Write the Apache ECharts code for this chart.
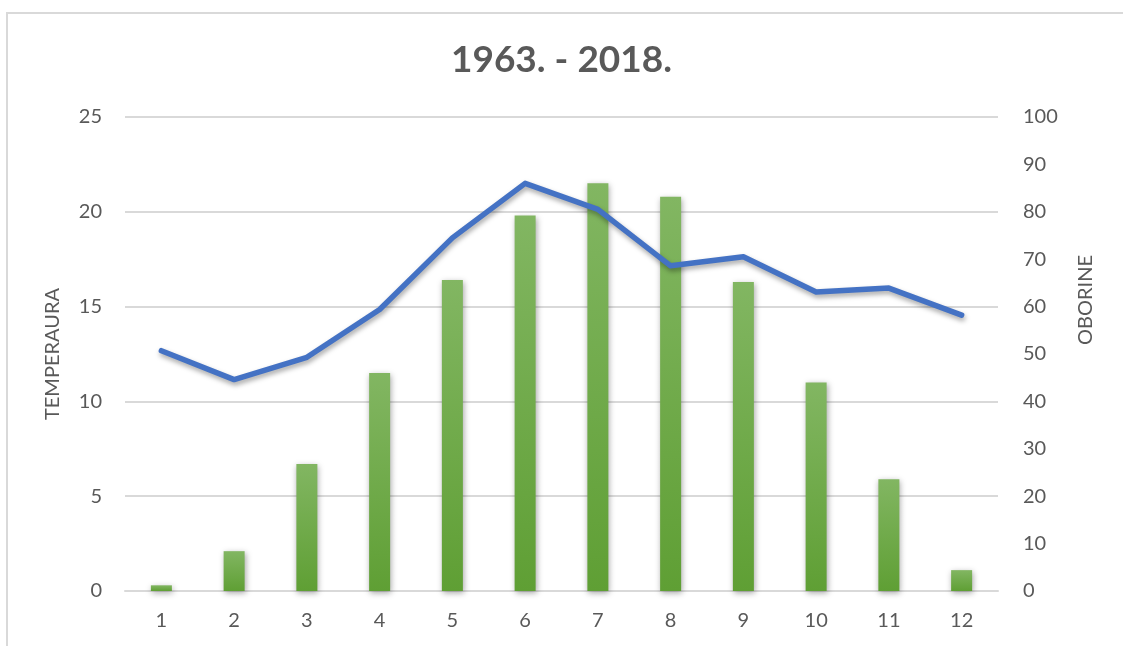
<!DOCTYPE html>
<html>
<head>
<meta charset="utf-8">
<script src="https://cdn.jsdelivr.net/npm/echarts@6/dist/echarts.min.js"></script>
<style>html,body{margin:0;padding:0;background:#fff}#c{width:1123px;height:646px}</style>
</head>
<body>
<div id="c"></div>
<script>
const months = ['1','2','3','4','5','6','7','8','9','10','11','12'];
const temperatura = [0.3, 2.1, 6.7, 11.5, 16.4, 19.8, 21.5, 20.8, 16.3, 11.0, 5.9, 1.1];
const oborine = [50.7, 44.6, 49.3, 59.4, 74.5, 86.0, 80.5, 68.6, 70.5, 63.1, 63.9, 58.2];
const titleText = '1963. - 2018.';

const chart = echarts.init(document.getElementById('c'));
const txt = '#595959';
const font = 'Lato';
chart.setOption({
  backgroundColor: '#fff',
  animation: false,
  title: {
    text: titleText, left: 'center', top: 37,
    textStyle: {fontFamily: font, fontSize: 37, fontWeight: 'bold', color: txt}
  },
  graphic: [{
    type: 'rect', shape: {x: 7, y: 13, width: 1200, height: 700},
    style: {fill: 'none', stroke: '#d9d9d9', lineWidth: 2}, silent: true
  }],
  grid: {left: 125, right: 125, top: 117, bottom: 55},
  xAxis: {
    type: 'category', data: months,
    axisTick: {show: false},
    axisLine: {lineStyle: {color: '#d9d9d9', width: 2}},
    axisLabel: {color: txt, fontFamily: font, fontSize: 20, margin: 20}
  },
  yAxis: [{
    type: 'value', min: 0, max: 25, interval: 5,
    name: 'TEMPERAURA', nameLocation: 'middle', nameGap: 62, nameRotate: 90,
    nameTextStyle: {color: txt, fontFamily: font, fontSize: 20},
    axisLine: {show: false}, axisTick: {show: false},
    axisLabel: {color: txt, fontFamily: font, fontSize: 20, margin: 23},
    splitLine: {lineStyle: {color: '#d9d9d9', width: 2}}
  }, {
    type: 'value', min: 0, max: 100, interval: 10,
    name: 'OBORINE', nameLocation: 'middle', nameGap: 78, nameRotate: 90,
    nameTextStyle: {color: txt, fontFamily: font, fontSize: 20, padding: [0, 0, 0, 108]},
    axisLine: {show: false}, axisTick: {show: false},
    axisLabel: {color: txt, fontFamily: font, fontSize: 20, margin: 25},
    splitLine: {show: false}
  }],
  series: [{
    type: 'bar', name: 'TEMPERAURA', yAxisIndex: 0, data: temperatura, barWidth: 21,
    itemStyle: {
      color: new echarts.graphic.LinearGradient(0, 0, 0, 1, [
        {offset: 0, color: '#82b662'}, {offset: 1, color: '#5f9f34'}
      ]),
      shadowColor: 'rgba(0,0,0,0.35)', shadowBlur: 6, shadowOffsetX: 1, shadowOffsetY: 2
    }
  }, {
    type: 'line', name: 'OBORINE', yAxisIndex: 1, data: oborine,
    symbol: 'none', smooth: false,
    lineStyle: {color: '#4472C4', width: 5.5, cap: 'round', join: 'round',
      shadowColor: 'rgba(0,0,0,0.35)', shadowBlur: 5, shadowOffsetX: 1, shadowOffsetY: 3},
    itemStyle: {color: '#4472C4'}
  }]
});
</script>
</body>
</html>
